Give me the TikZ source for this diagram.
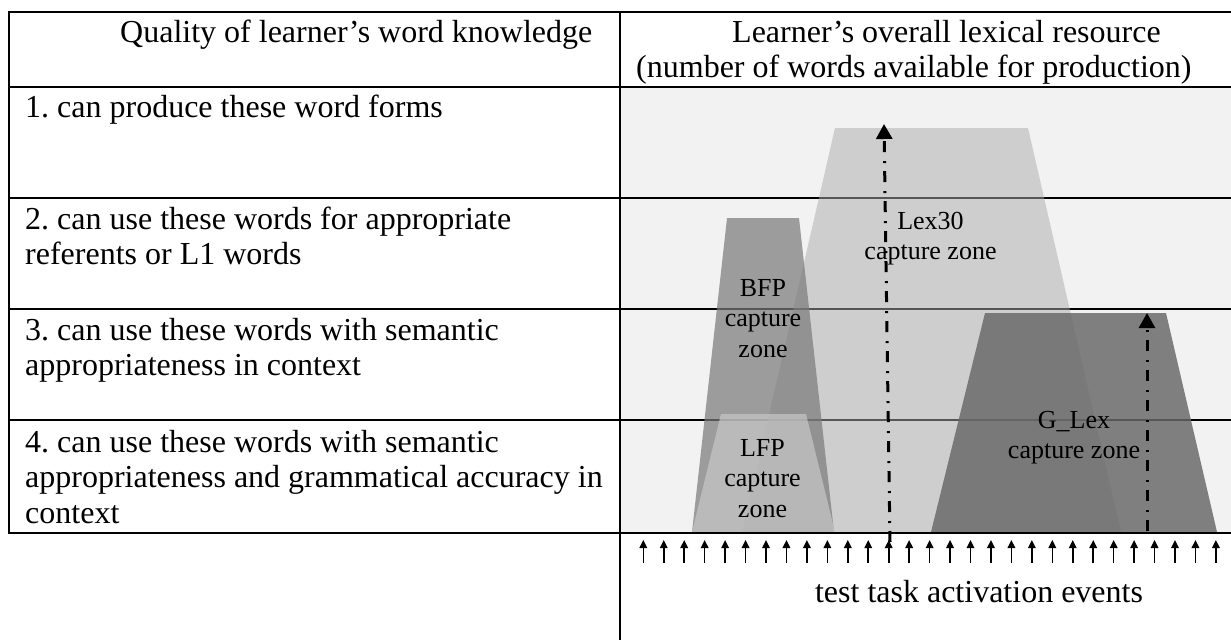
\documentclass[tikz,border=0pt]{standalone}
\usepackage{fontspec}
\setmainfont{Liberation Serif}
\usetikzlibrary{arrows.meta}
\definecolor{panelbg}{gray}{0.949}
\definecolor{lexfill}{gray}{0.67}
\definecolor{bfpfill}{gray}{0.478}
\definecolor{glexfill}{gray}{0.408}
\definecolor{lfpfill}{gray}{0.784}
\tikzset{
  tablerule/.style={line width=2pt, black},
  celltext/.style={anchor=base west, inner sep=0pt, font=\fontsize{32}{35.5}\selectfont\frenchspacing, align=flush left, text width=600pt},
  headtext/.style={anchor=base west, inner sep=0pt, font=\fontsize{32}{35.5}\selectfont\frenchspacing},
  zonelabel/.style={anchor=base, inner sep=0pt, font=\fontsize{26}{30.5}\selectfont, align=flush center, text width=200pt},
  zonearrow/.style={line width=3pt, dash pattern=on 11pt off 8pt on 2pt off 9pt, -{Triangle[width=16pt,length=15pt]}},
  eventarrow/.style={line width=1.6pt, -{Triangle[width=7.5pt,length=8pt]}},
  lexzone/.style={fill=lexfill, fill opacity=0.5},
  bfpzone/.style={fill=bfpfill, fill opacity=0.71},
  glexzone/.style={fill=glexfill, fill opacity=0.83},
  lfpzone/.style={fill=lfpfill, fill opacity=0.7},
}
\begin{document}
\begin{tikzpicture}[x=1pt, y=-1pt]
\useasboundingbox (0,0) rectangle (1231,640);
% grey panel
\fill[panelbg] (621,88) rectangle (1231,532);
% inner rules (under the zones)
\draw[tablerule] (9,198) -- (1231,198);
\draw[tablerule] (9,309) -- (1231,309);
\draw[tablerule] (9,420) -- (1231,420);
% capture zones
\fill[lexzone] (742,532) -- (835,128) -- (1028,128) -- (1121,532) -- cycle;
\fill[bfpzone] (692,532) -- (727,218) -- (799,218) -- (834,532) -- cycle;
\fill[glexzone] (931,532) -- (985,313) -- (1166,313) -- (1217,532) -- cycle;
\fill[lfpzone] (692,532) -- (721,414) -- (806,414) -- (835,532) -- cycle;
% frame rules
\draw[tablerule] (1231,12) -- (9,12) -- (9,533) -- (1231,533);
\draw[tablerule] (9,87) -- (1231,87);
\draw[tablerule] (620,12) -- (620,640);
% header texts
\node[headtext] (hleft) at (120,42) {Quality of learner’s word knowledge};
\node[headtext] (hright1) at (732,42) {Learner’s overall lexical resource};
\node[headtext] (hright2) at (636,77) {(number of words available for production)};
% row texts
\node[celltext] (row1) at (25,117) {1. can produce these word forms};
\node[celltext] (row2) at (25,229) {2. can use these words for appropriate\\referents or L1 words};
\node[celltext] (row3) at (25,340) {3. can use these words with semantic\\appropriateness in context};
\node[celltext] (row4) at (25,452) {4. can use these words with semantic\\appropriateness and grammatical accuracy in\\context};
% zone labels
\node[zonelabel] (lexlab) at (930.5,229) {Lex30\\capture zone};
\node[zonelabel] (bfplab) at (763,296) {BFP\\capture\\zone};
\node[zonelabel] (lfplab) at (762.5,456) {LFP\\capture\\zone};
\node[zonelabel] (glexlab) at (1074,428) {G\_Lex\\capture zone};
% dash-dot arrows
\coordinate (lexbase) at (890,542);
\coordinate (lextop) at (884,124);
\coordinate (glexbase) at (1147,531);
\coordinate (glextop) at (1147,313);
\draw[zonearrow] (lexbase) -- (lextop);
\draw[zonearrow] (glexbase) -- (glextop);
% activation events
\foreach \k in {0,...,28}{
  \draw[eventarrow] ({643.3+20.45*\k},563) -- ({643.3+20.45*\k},540);
}
\node[headtext, anchor=base] (events) at (979,602) {test task activation events};
\end{tikzpicture}
\end{document}
